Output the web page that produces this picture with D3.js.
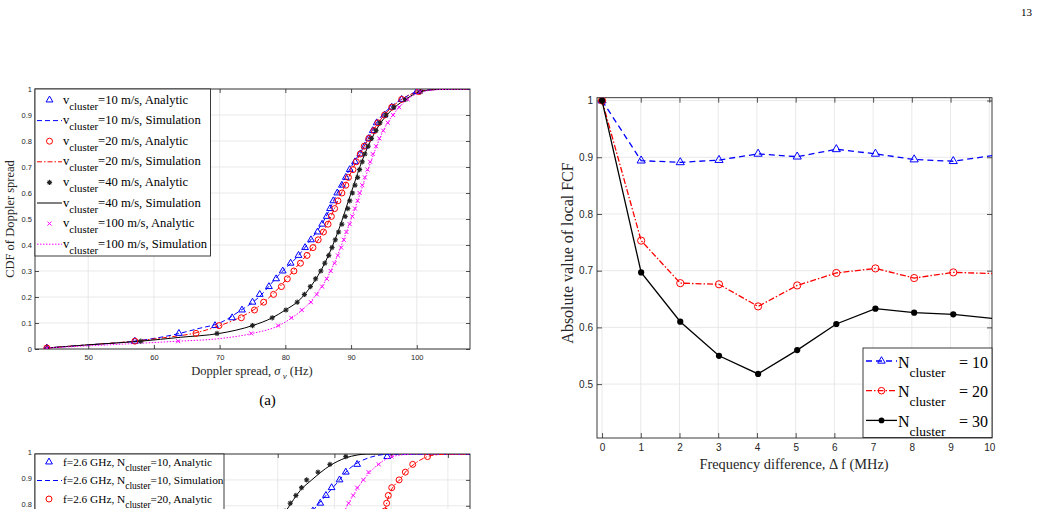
<!DOCTYPE html>
<html>
<head>
<meta charset="utf-8">
<script src="https://cdn.jsdelivr.net/npm/d3@7"></script>
<style>
  body { margin: 0; background: #fff; }
  svg { display: block; }
</style>
</head>
<body>
<svg id="page" width="1039" height="509"></svg>
<script>
// ---------- data: (a) CDF of Doppler spread ----------
const cdfLevels = [0.004, 0.03, 0.06, 0.09, 0.12, 0.15, 0.18, 0.21, 0.24, 0.27, 0.30, 0.33, 0.36, 0.39, 0.42, 0.45, 0.48,
  0.51, 0.54, 0.57, 0.60, 0.63, 0.66, 0.69, 0.72, 0.75, 0.78, 0.81, 0.84, 0.87, 0.90, 0.93, 0.96, 0.99];
const v10Analytic = [43.7, 57.1, 63.8, 69.3, 71.9, 73.4, 75.0, 76.1, 77.5, 78.6, 79.6, 80.8, 82.0, 83.0, 83.9, 84.9, 85.6,
  86.3, 86.8, 87.3, 87.9, 88.6, 89.2, 89.8, 90.6, 91.4, 92.1, 92.7, 93.3, 93.9, 95.1, 96.2, 97.7, 100.0];
const v20Analytic = [43.7, 57.1, 66.4, 69.9, 73.3, 75.3, 76.7, 78.2, 79.4, 80.3, 81.3, 82.3, 83.3, 84.2, 85.0, 85.8, 86.5,
  87.0, 87.5, 88.0, 88.6, 89.2, 89.6, 90.3, 90.8, 91.4, 92.0, 92.7, 93.5, 94.1, 95.1, 96.2, 97.7, 100.3];
const v40Analytic = [43.7, 58.0, 69.6, 75.0, 78.0, 80.1, 81.8, 82.9, 83.8, 84.6, 85.4, 86.0, 86.6, 87.1, 87.6, 88.1, 88.6,
  89.1, 89.5, 89.8, 90.2, 90.6, 91.0, 91.3, 91.7, 92.1, 92.6, 93.1, 93.8, 94.4, 95.3, 96.5, 98.3, 100.6];
const v100Analytic = [43.7, 63.7, 74.8, 78.9, 80.9, 82.5, 83.9, 84.8, 85.6, 86.3, 86.9, 87.5, 88.0, 88.5, 88.9, 89.3, 89.8,
  90.2, 90.6, 91.0, 91.3, 91.7, 92.1, 92.5, 92.9, 93.3, 93.8, 94.3, 94.9, 95.6, 96.4, 97.3, 98.6, 100.5];

const v10Simulation = [[43.7, 0.004], [50, 0.016], [57, 0.03], [63, 0.055], [67, 0.08], [70, 0.1], [73, 0.145], [76, 0.2],
  [79, 0.285], [82, 0.36], [84, 0.425], [86, 0.5], [88, 0.605], [90, 0.7], [92, 0.78], [94, 0.875], [96, 0.93],
  [98, 0.965], [100, 0.99], [102, 0.997], [104, 0.999], [108, 1]];
const v20Simulation = [[43.7, 0.004], [50, 0.016], [57, 0.03], [62, 0.045], [66, 0.06], [70, 0.09], [73, 0.12], [76, 0.165],
  [79, 0.235], [82, 0.325], [84, 0.385], [86, 0.46], [88, 0.57], [90, 0.68], [92, 0.78], [94, 0.865], [96, 0.925],
  [98, 0.965], [100, 0.988], [102, 0.997], [104, 0.999], [108, 1]];
const v40Simulation = [[43.7, 0.004], [50, 0.016], [58, 0.03], [64, 0.045], [70, 0.06], [75, 0.09], [78, 0.12], [80, 0.15],
  [82, 0.185], [84, 0.245], [86, 0.33], [88, 0.45], [90, 0.6], [92, 0.745], [94, 0.85], [96, 0.915], [98, 0.955],
  [100, 0.985], [102, 0.996], [104, 0.999], [108, 1]];
const v100Simulation = [[43.7, 0.004], [50, 0.012], [57, 0.021], [63.7, 0.03], [70, 0.04], [75, 0.06], [79, 0.09], [81, 0.12],
  [83, 0.16], [85, 0.22], [87, 0.305], [89, 0.43], [91, 0.57], [93, 0.72], [95, 0.845], [97, 0.92], [99, 0.968],
  [101, 0.99], [103, 0.997], [105, 0.999], [108, 1]];

const labelsA = ["=10 m/s, Analytic", "=10 m/s, Simulation", "=20 m/s, Analytic", "=20 m/s, Simulation",
  "=40 m/s, Analytic", "=40 m/s, Simulation", "=100 m/s, Analytic", "=100 m/s, Simulation"];
const xTicksA = [50, 60, 70, 80, 90, 100];
const yTicksCdf = [0, 0.1, 0.2, 0.3, 0.4, 0.5, 0.6, 0.7, 0.8, 0.9, 1];

// ---------- data: local FCF vs frequency difference ----------
const freqDiff = [0, 1.01, 2.02, 3.02, 4.03, 5.04, 6.05, 7.06, 8.06, 9.07, 10.08];
const fcfN10 = [1.0, 0.894, 0.891, 0.895, 0.906, 0.901, 0.914, 0.906, 0.896, 0.893, 0.903];
const fcfN20 = [1.0, 0.753, 0.678, 0.676, 0.637, 0.674, 0.696, 0.704, 0.687, 0.697, 0.695];
const fcfN30 = [1.0, 0.697, 0.610, 0.550, 0.518, 0.560, 0.606, 0.633, 0.626, 0.623, 0.616];
const legendB = ["10", "20", "30"];
const xTicksB = [0, 1, 2, 3, 4, 5, 6, 7, 8, 9, 10];
const yTicksB = [0.5, 0.6, 0.7, 0.8, 0.9, 1];

// ---------- data: second CDF figure (only its top is on this page) ----------
const cdfLevelsC = [0.72, 0.75, 0.78, 0.81, 0.84, 0.87, 0.90, 0.93, 0.96, 0.99];
const f26N10Analytic = [94.6, 95.3, 96.2, 97.5, 98.5, 99.5, 100.9, 102.0, 104.0, 109.3];
const f26N20Analytic = [108.3, 108.6, 108.9, 109.2, 109.5, 110.1, 111.4, 112.5, 113.8, 116.4];
const fOtherA = [89.7, 90.4, 91.3, 92.2, 93.2, 94.2, 95.1, 97.1, 99.2, 102.0];
const fOtherB = [100.6, 101.2, 101.8, 102.5, 103.3, 104.0, 105.1, 106.0, 107.8, 110.1];
const f26N10Simulation = [[94, 0.7], [96.2, 0.78], [98.5, 0.84], [100.9, 0.9], [102, 0.93], [104, 0.965], [106, 0.985],
  [108, 0.996], [110, 1], [124, 1]];
const f26N20Simulation = [[108.2, 0.7], [109, 0.79], [109.6, 0.84], [110.6, 0.88], [111.5, 0.9], [112.5, 0.93], [114, 0.96],
  [116.4, 0.99], [118.5, 0.998], [121, 1], [124, 1]];
const fOtherASimulation = [[89, 0.7], [91.6, 0.785], [94, 0.86], [96, 0.9], [99.2, 0.955], [102, 0.985], [104, 0.996],
  [105.7, 1], [124, 1]];
const fOtherBSimulation = [[100.5, 0.7], [101.8, 0.78], [103.3, 0.84], [105.1, 0.9], [106.5, 0.935], [108, 0.965],
  [110, 0.988], [112, 0.997], [115, 1], [124, 1]];
const labelsC = [["f=2.6 GHz, N", "=10, Analytic"], ["f=2.6 GHz, N", "=10, Simulation"], ["f=2.6 GHz, N", "=20, Analytic"]];
const xTicksC = [50, 60, 70, 80, 90, 100, 110, 120];
const yTicksC = [0.8, 0.9, 1];

// ---------- drawing ----------
const SERIF = "'Liberation Serif', 'Times New Roman', serif";
const SANS = "'Liberation Sans', Arial, Helvetica, sans-serif";
const AX = "#262626", GRID = "#e3e3e3";
const BLUE = "#0000ff", RED = "#ff0000", BLACK = "#000000", STAR = "#222222", MAG = "#ff00ff";

const svg = d3.select("#page");
const defs = svg.append("defs");

function clip(id, x, y) {
  const [x0, x1] = x.range(), [y0, y1] = y.range();
  defs.append("clipPath").attr("id", id).append("rect")
    .attr("x", x0).attr("y", y1).attr("width", x1 - x0).attr("height", y0 - y1);
  return `url(#${id})`;
}

function frame(g, x, y, xt, yt, o) {
  const [x0, x1] = x.range(), [y0, y1] = y.range();
  g.append("g").selectAll("line").data(xt).join("line")
    .attr("x1", d => x(d)).attr("x2", d => x(d)).attr("y1", y0).attr("y2", y1)
    .attr("stroke", GRID).attr("stroke-width", 0.8);
  g.append("g").selectAll("line").data(yt).join("line")
    .attr("y1", d => y(d)).attr("y2", d => y(d)).attr("x1", x0).attr("x2", x1)
    .attr("stroke", GRID).attr("stroke-width", 0.8);

  const axes = [
    [d3.axisBottom(x).tickValues(xt).tickSize(-o.tick).tickPadding(o.padX)
      .tickFormat(o.noX ? "" : d => String(d)), `translate(0,${y0})`],
    [d3.axisTop(x).tickValues(xt).tickSize(-o.tick).tickFormat(""), `translate(0,${y1})`],
    [d3.axisLeft(y).tickValues(yt).tickSize(-o.tick).tickPadding(o.padY).tickFormat(d => String(d)),
      `translate(${x0},0)`],
    [d3.axisRight(y).tickValues(yt).tickSize(-o.tick).tickFormat(""), `translate(${x1},0)`]
  ];
  axes.forEach(([ax, tr], k) => {
    const a = g.append("g").attr("transform", tr).call(ax);
    a.select(".domain").remove();
    a.selectAll("line").attr("stroke", AX).attr("stroke-width", 0.8);
    a.selectAll("text").attr("fill", AX).attr("font-family", SANS).attr("font-size", o.fs);
    if (k === 2 && o.yDy) a.selectAll("text").attr("dy", o.yDy);
    a.selectAll("text").filter(function () { return this.textContent === ""; }).remove();
  });
  g.append("rect").attr("x", x0).attr("y", y1).attr("width", x1 - x0).attr("height", y0 - y1)
    .attr("fill", "none").attr("stroke", AX).attr("stroke-width", 0.9);
}

function marker(g, type, cx, cy, color, s) {
  if (type === "tri") {
    g.append("path").attr("d", d3.symbol(d3.symbolTriangle, 20 * s * s)())
      .attr("transform", `translate(${cx},${cy})`)
      .attr("fill", "none").attr("stroke", color).attr("stroke-width", 1);
  } else if (type === "circ") {
    g.append("circle").attr("cx", cx).attr("cy", cy).attr("r", 3 * s)
      .attr("fill", "none").attr("stroke", color).attr("stroke-width", 1);
  } else if (type === "star") {
    const r = 2.6 * s;
    [0, 45, 90, 135].forEach(a => {
      const dx = r * Math.cos(a * Math.PI / 180), dy = r * Math.sin(a * Math.PI / 180);
      g.append("line").attr("x1", cx - dx).attr("x2", cx + dx).attr("y1", cy - dy).attr("y2", cy + dy)
        .attr("stroke", color).attr("stroke-width", 1.1);
    });
    g.append("circle").attr("cx", cx).attr("cy", cy).attr("r", 1.2 * s).attr("fill", color);
  } else if (type === "dot") {
    g.append("circle").attr("cx", cx).attr("cy", cy).attr("r", 2.6 * s).attr("fill", color);
  } else if (type === "x") {
    const r = 2 * s;
    g.append("path").attr("d", `M${cx - r},${cy - r}L${cx + r},${cy + r}M${cx - r},${cy + r}L${cx + r},${cy - r}`)
      .attr("stroke", color).attr("stroke-width", 1);
  }
}

function subText(g, x, y, before, sub, after, fs, subFs, subDy, anchor) {
  const t = g.append("text").attr("x", x).attr("y", y).attr("font-family", SERIF)
    .attr("font-size", fs).attr("fill", "#000").attr("text-anchor", anchor || "start");
  t.append("tspan").text(before);
  t.append("tspan").attr("dy", subDy).attr("font-size", subFs).text(sub);
  if (after) t.append("tspan").attr("dy", -subDy).text(after);
  return t;
}

// page number
svg.append("text").attr("x", 1021).attr("y", 15.5).attr("font-family", SERIF).attr("font-size", 11).text("13");

// ----- (a) -----
const xA = d3.scaleLinear().domain([41.9, 108.1]).range([35, 470]);
const yA = d3.scaleLinear().domain([0, 1]).range([349, 89]);
const gA = svg.append("g");
frame(gA, xA, yA, xTicksA, yTicksCdf, { tick: 4, padX: 6, padY: 3, fs: 7.5 });

const seriesA = [
  { xs: v10Analytic, sim: v10Simulation, color: BLUE, mk: "tri", dash: "5,3", w: 1 },
  { xs: v20Analytic, sim: v20Simulation, color: RED, mk: "circ", dash: "5,2,1.5,2", w: 1 },
  { xs: v40Analytic, sim: v40Simulation, color: BLACK, mkColor: STAR, mk: "star", dash: null, w: 1 },
  { xs: v100Analytic, sim: v100Simulation, color: MAG, mk: "x", dash: "1.5,1.5", w: 1 }
];
const clipA = clip("clipA", xA, yA);
const lineA = d3.line().x(d => xA(d[0])).y(d => yA(d[1])).curve(d3.curveMonotoneX);
const plotA = gA.append("g").attr("clip-path", clipA);
seriesA.forEach(s => {
  plotA.append("path").attr("d", lineA(s.sim)).attr("fill", "none")
    .attr("stroke", s.color).attr("stroke-width", s.w).attr("stroke-dasharray", s.dash);
});
seriesA.forEach(s => {
  s.xs.forEach((v, i) => marker(plotA, s.mk, xA(v), yA(cdfLevels[i]), s.mkColor || s.color, 1));
});

// legend (a)
const legA = gA.append("g");
legA.append("rect").attr("x", 35).attr("y", 89).attr("width", 175.5).attr("height", 167)
  .attr("fill", "#fff").attr("stroke", AX).attr("stroke-width", 0.9);
labelsA.forEach((lab, i) => {
  const cy = 100 + i * 20.6;
  const s = seriesA[Math.floor(i / 2)];
  if (i % 2 === 0) {
    marker(legA, s.mk, 49.5, cy, s.mkColor || s.color, 1);
  } else {
    legA.append("line").attr("x1", 37).attr("x2", 62).attr("y1", cy).attr("y2", cy)
      .attr("stroke", s.color).attr("stroke-width", s.w).attr("stroke-dasharray", s.dash);
  }
  subText(legA, 63, cy + 3.5, "v", "cluster", lab, 12.6, 10.8, 6);
});

// axis labels (a)
const xlabA = gA.append("text").attr("x", 252).attr("y", 375).attr("text-anchor", "middle")
  .attr("font-family", SERIF).attr("font-size", 12.5).attr("fill", "#262626");
xlabA.append("tspan").text("Doppler spread, ");
xlabA.append("tspan").attr("font-style", "italic").text("σ");
xlabA.append("tspan").attr("dy", 4).attr("font-size", 9).attr("font-style", "italic").text(" ν");
xlabA.append("tspan").attr("dy", -4).text(" (Hz)");
gA.append("text").attr("transform", "translate(14,219) rotate(-90)").attr("text-anchor", "middle")
  .attr("font-family", SERIF).attr("font-size", 12.5).attr("fill", "#262626").text("CDF of Doppler spread");
svg.append("text").attr("x", 267.5).attr("y", 404.5).attr("text-anchor", "middle")
  .attr("font-family", SERIF).attr("font-size", 15).text("(a)");

// ----- local FCF -----
const xB = d3.scaleLinear().domain([-0.13, 10.07]).range([597, 992]);
const yB = d3.scaleLinear().domain([0.405, 1.005]).range([438, 97.7]);
const gB = svg.append("g");
frame(gB, xB, yB, xTicksB, yTicksB, { tick: 5, padX: 6, padY: 4, fs: 10 });

const seriesB = [
  { ys: fcfN10, color: BLUE, mk: "tri", dash: "6,4" },
  { ys: fcfN20, color: RED, mk: "circ", dash: "6,2,1.5,2" },
  { ys: fcfN30, color: BLACK, mk: "dot", dash: null }
];
const clipB = clip("clipB", xB, yB);
const plotB = gB.append("g").attr("clip-path", clipB);
const lineB = d3.line().x(d => xB(d[0])).y(d => yB(d[1]));
seriesB.forEach(s => {
  const pts = freqDiff.map((f, i) => [f, s.ys[i]]);
  plotB.append("path").attr("d", lineB(pts)).attr("fill", "none")
    .attr("stroke", s.color).attr("stroke-width", 1.3).attr("stroke-dasharray", s.dash);
  pts.filter(p => p[0] <= xB.domain()[1]).forEach(p => marker(plotB, s.mk, xB(p[0]), yB(p[1]), s.color, 1.2));
});

const legB = gB.append("g");
legB.append("rect").attr("x", 863).attr("y", 348).attr("width", 129).attr("height", 89.5)
  .attr("fill", "#fff").attr("stroke", AX).attr("stroke-width", 0.9);
legendB.forEach((n, i) => {
  const cy = 361 + i * 29.7;
  const s = seriesB[i];
  legB.append("line").attr("x1", 866).attr("x2", 897).attr("y1", cy).attr("y2", cy)
    .attr("stroke", s.color).attr("stroke-width", 1.3).attr("stroke-dasharray", s.dash);
  marker(legB, s.mk, 881.5, cy, s.color, 1.1);
  subText(legB, 898, cy + 6.7, "N", "cluster", null, 16, 13.5, 9);
  legB.append("text").attr("x", 988).attr("y", cy + 6.7).attr("text-anchor", "end")
    .attr("font-family", SERIF).attr("font-size", 16).text("= " + n);
});

gB.append("text").attr("x", 794).attr("y", 469).attr("text-anchor", "middle")
  .attr("font-family", SERIF).attr("font-size", 14.4).attr("fill", "#262626")
  .text("Frequency difference, Δ f (MHz)");
gB.append("text").attr("transform", "translate(573,253) rotate(-90)").attr("text-anchor", "middle")
  .attr("font-family", SERIF).attr("font-size", 16).attr("fill", "#262626").text("Absolute value of local FCF");

// ----- second CDF figure, cut by the page edge -----
const xC = d3.scaleLinear().domain([47.2, 123.9]).range([35, 470]);
const yC = d3.scaleLinear().domain([0, 1]).range([713, 454]);
const gC = svg.append("g");
frame(gC, xC, yC, xTicksC, yTicksC, { tick: 4, padX: 6, padY: 3, fs: 7.5, noX: true, yDy: "0.12em" });
const seriesC = [
  { xs: fOtherA, sim: fOtherASimulation, color: BLACK, mkColor: STAR, mk: "star", dash: null },
  { xs: f26N10Analytic, sim: f26N10Simulation, color: BLUE, mk: "tri", dash: "5,3" },
  { xs: fOtherB, sim: fOtherBSimulation, color: MAG, mk: "x", dash: "1.5,1.5" },
  { xs: f26N20Analytic, sim: f26N20Simulation, color: RED, mk: "circ", dash: "5,2,1.5,2" }
];
const clipC = clip("clipC", xC, yC);
const plotC = gC.append("g").attr("clip-path", clipC);
const lineC = d3.line().x(d => xC(d[0])).y(d => yC(d[1])).curve(d3.curveMonotoneX);
seriesC.forEach(s => {
  plotC.append("path").attr("d", lineC(s.sim)).attr("fill", "none")
    .attr("stroke", s.color).attr("stroke-width", 1).attr("stroke-dasharray", s.dash);
  s.xs.forEach((v, i) => marker(plotC, s.mk, xC(v), yC(cdfLevelsC[i]), s.mkColor || s.color, 1));
});
const legC = gC.append("g");
legC.append("rect").attr("x", 35).attr("y", 454).attr("width", 189).attr("height", 150)
  .attr("fill", "#fff").attr("stroke", AX).attr("stroke-width", 0.9);
labelsC.forEach((lab, i) => {
  const cy = 462 + i * 18.5;
  const s = i < 2 ? seriesC[1] : seriesC[3];
  if (i === 1) {
    legC.append("line").attr("x1", 37).attr("x2", 62).attr("y1", cy).attr("y2", cy)
      .attr("stroke", s.color).attr("stroke-width", 1).attr("stroke-dasharray", s.dash);
  } else {
    marker(legC, s.mk, 49, cy, s.color, 1);
  }
  subText(legC, 63, cy + 3.5, lab[0], "cluster", lab[1], 11.3, 9.5, 5);
});
</script>
</body>
</html>
